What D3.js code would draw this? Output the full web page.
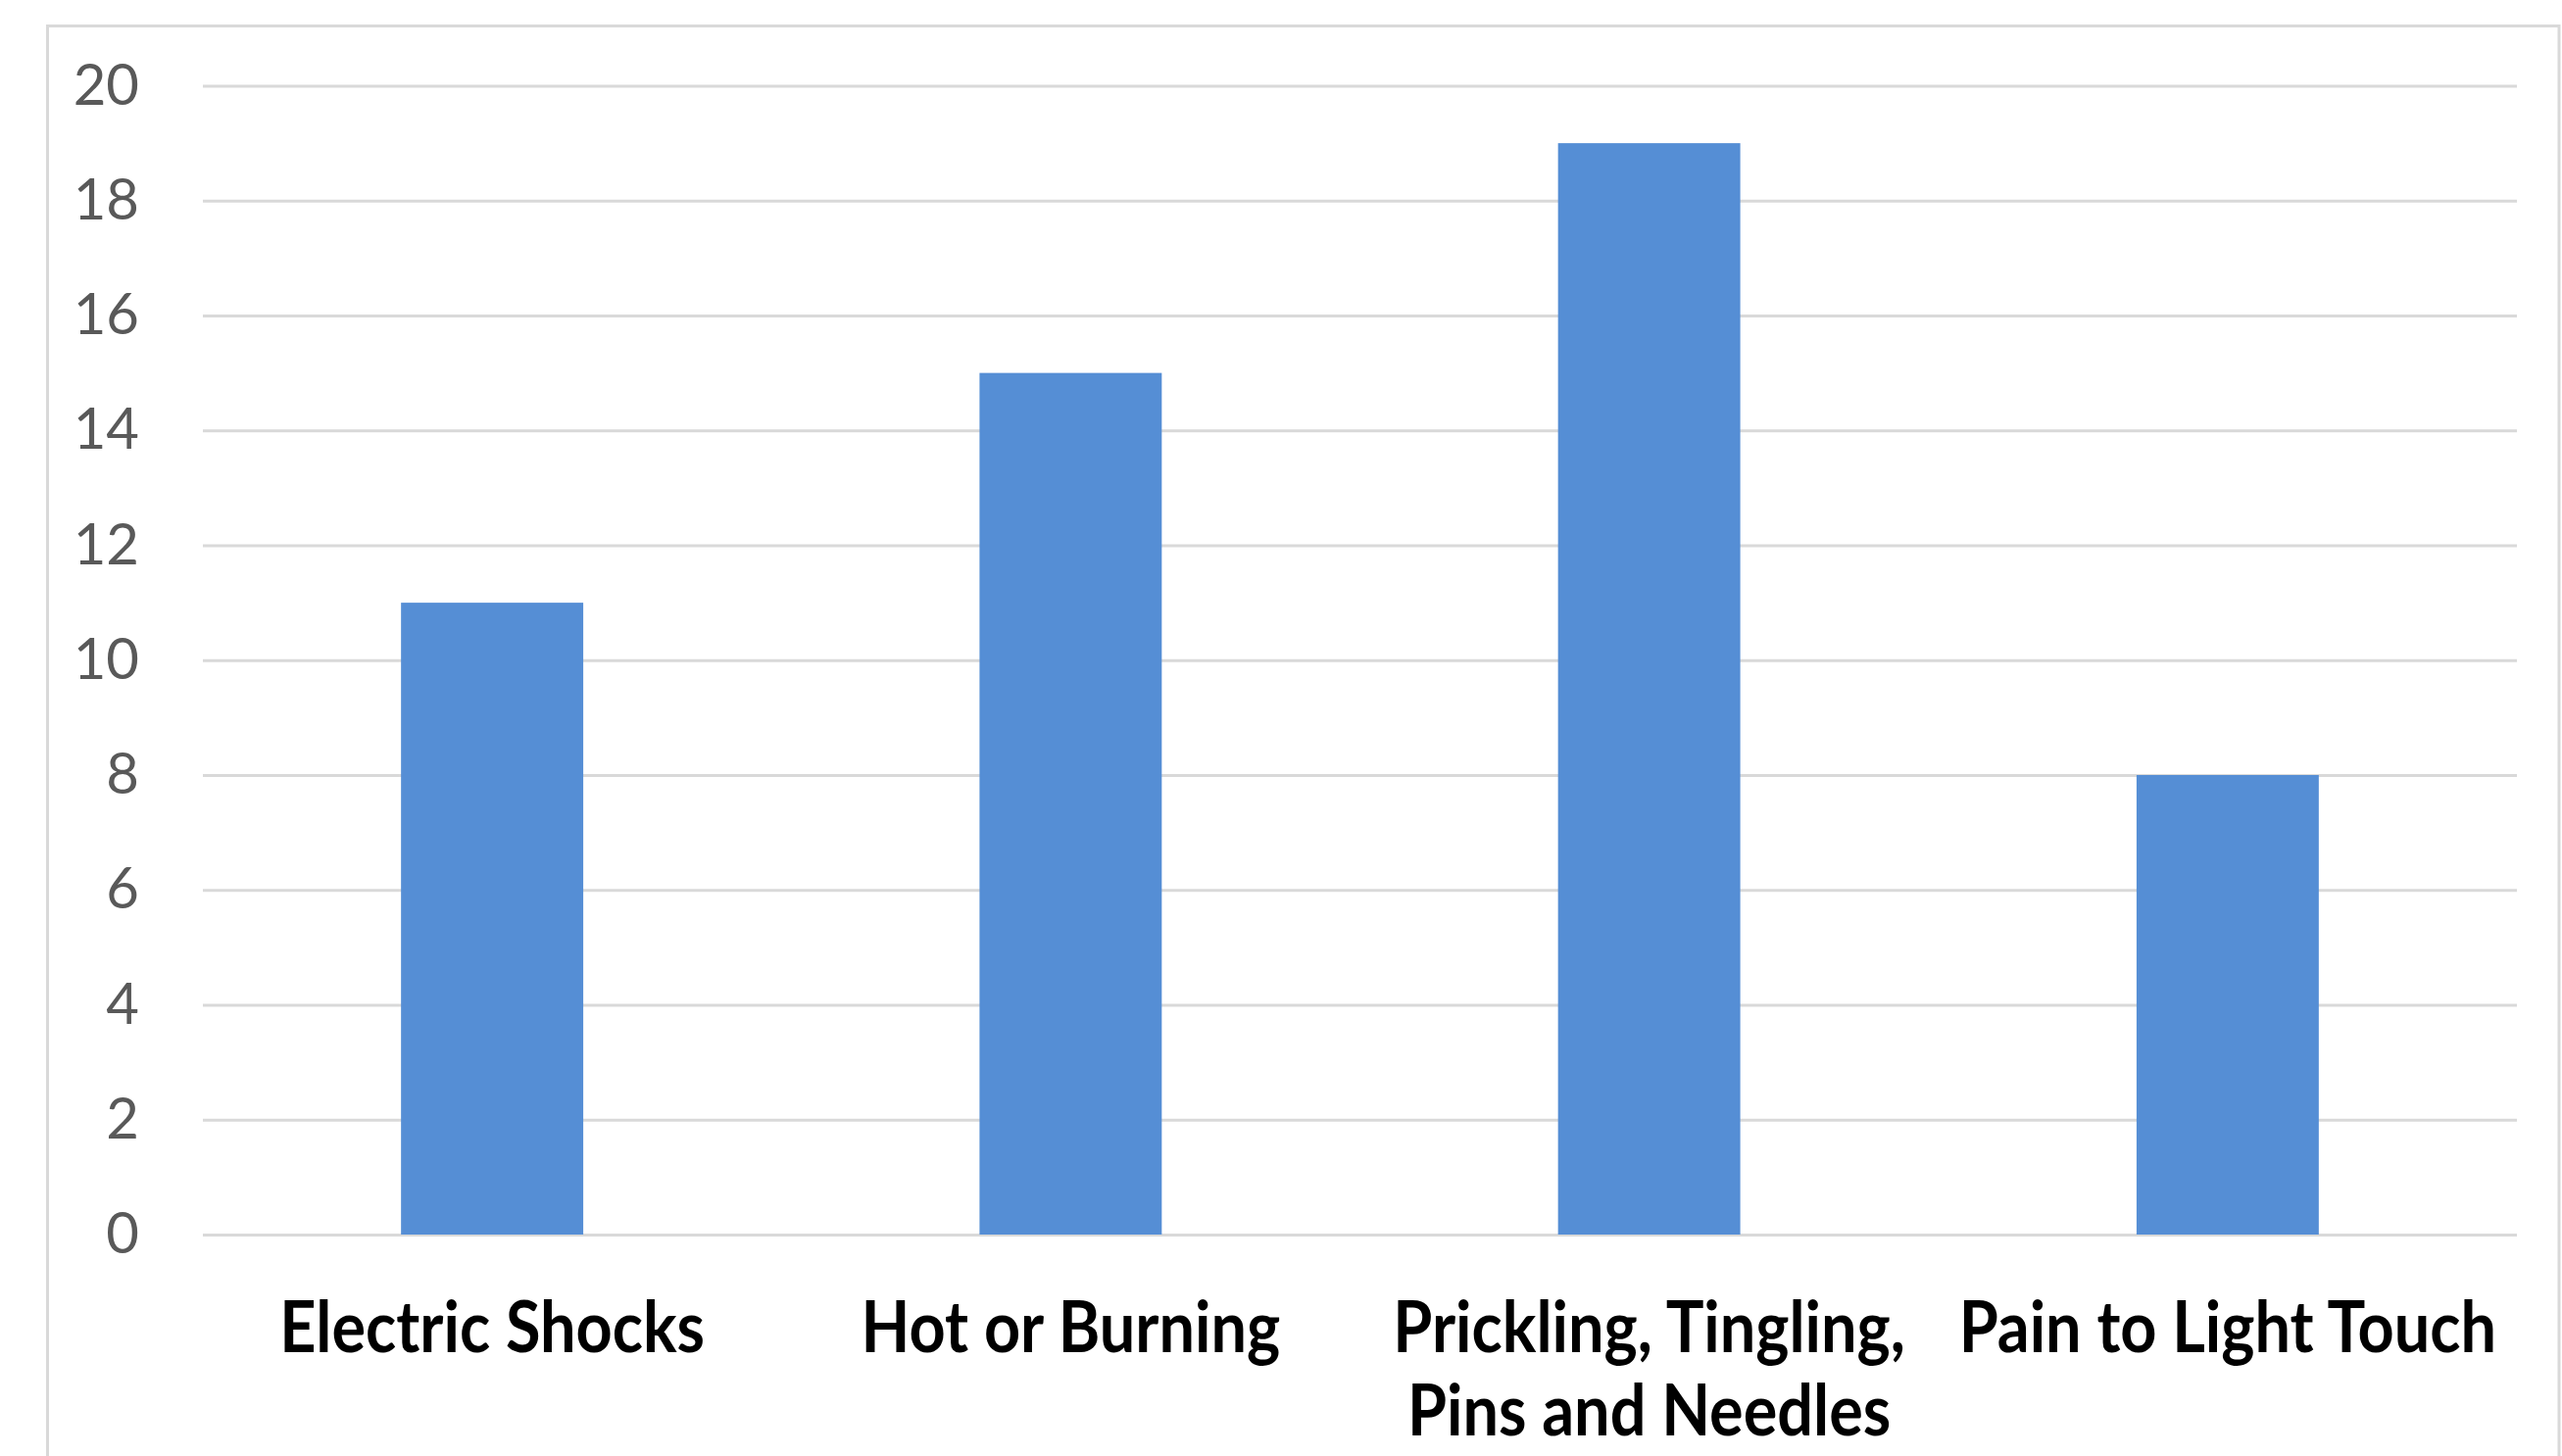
<!DOCTYPE html>
<html>
<head>
<meta charset="utf-8">
<script src="https://cdn.jsdelivr.net/npm/d3@7"></script>
<style>
  html, body { margin: 0; padding: 0; background: #ffffff; }
  svg { display: block; }
</style>
</head>
<body>
<svg id="chart" width="2614" height="1486"></svg>
<script>
// Sensation categories and respondent counts
const categories = ["Electric Shocks", "Hot or Burning", "Prickling, Tingling, Pins and Needles", "Pain to Light Touch"];
const counts = [11, 15, 19, 8];
const yTicks = [0, 2, 4, 6, 8, 10, 12, 14, 16, 18, 20];

const W = 2614, H = 1486;
const plot = { left: 207, right: 2568, top: 87.5, bottom: 1260 };

const svg = d3.select("#chart");

// Outer chart frame
svg.append("rect")
  .attr("x", 48.5).attr("y", 26.5)
  .attr("width", 2611 - 48.5).attr("height", H + 20)
  .attr("fill", "#ffffff")
  .attr("stroke", "#d9d9d9").attr("stroke-width", 3);

const x = d3.scaleBand()
  .domain(categories)
  .range([plot.left, plot.right])
  .paddingInner(0.685)
  .paddingOuter(0.685 / 2);

const y = d3.scaleLinear()
  .domain([0, 20])
  .range([plot.bottom, plot.top]);

// Horizontal gridlines with value labels
const yAxis = d3.axisLeft(y)
  .tickValues(yTicks)
  .tickSize(-(plot.right - plot.left))
  .tickPadding(65)
  .tickFormat(d3.format("d"));

const gy = svg.append("g")
  .attr("transform", `translate(${plot.left},0)`)
  .call(yAxis);
gy.select(".domain").remove();
gy.selectAll(".tick line")
  .attr("stroke", "#d9d9d9").attr("stroke-width", 3);
gy.selectAll(".tick text")
  .attr("fill", "#595959")
  .style("font-family", "Lato, 'Open Sans', sans-serif")
  .style("font-size", "58px");

// Bars
svg.append("g")
  .selectAll("rect")
  .data(categories)
  .join("rect")
  .attr("x", d => x(d))
  .attr("width", x.bandwidth())
  .attr("y", (d, i) => y(counts[i]))
  .attr("height", (d, i) => y(0) - y(counts[i]))
  .attr("fill", "#558ed5");

// Category labels, wrapped to the band step
const squeeze = 0.9;
const labelG = svg.append("g")
  .style("font-family", "Lato, 'Open Sans', sans-serif")
  .style("font-weight", "700")
  .style("font-size", "72px")
  .attr("fill", "#000000");

const maxWidth = x.step();
categories.forEach(cat => {
  const cx = x(cat) + x.bandwidth() / 2;
  const t = labelG.append("text")
    .attr("text-anchor", "middle")
    .attr("transform", `translate(${cx},0) scale(${squeeze},1)`);
  const words = cat.split(" ");
  let lines = [], line = [];
  const probe = t.append("tspan");
  words.forEach(w => {
    const test = line.concat(w).join(" ");
    probe.text(test);
    if (probe.node().getComputedTextLength() * squeeze > maxWidth && line.length) {
      lines.push(line.join(" "));
      line = [w];
    } else {
      line.push(w);
    }
  });
  lines.push(line.join(" "));
  probe.remove();
  lines.forEach((ln, i) => {
    t.append("tspan")
      .attr("x", 0)
      .attr("y", 1380 + i * 85)
      .text(ln);
  });
});
</script>
</body>
</html>
